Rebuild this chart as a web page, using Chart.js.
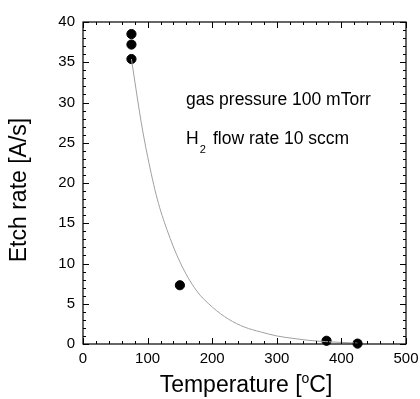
<!DOCTYPE html>
<html>
<head>
<meta charset="utf-8">
<script src="https://cdn.jsdelivr.net/npm/chart.js@4"></script>
<style>
  html, body { margin: 0; padding: 0; background: #fff; }
  #wrap { width: 420px; height: 399px; }
</style>
</head>
<body>
<div id="wrap"><canvas id="myChart" width="420" height="399"></canvas></div>
<script>
// measured points
const tempC = [75, 75, 75, 150, 377, 425];
const etchRate = [38.5, 37.2, 35.4, 7.3, 0.4, 0.05];

// fitted curve
const fitTemp = [75, 90, 100, 115, 130, 150, 175, 200, 225, 250, 275, 300, 325, 350, 375, 400, 425];
const fitRate = [35.4, 27.6, 23.3, 18.0, 14.2, 10.2, 6.7, 4.6, 3.1, 2.1, 1.5, 1.0, 0.7, 0.45, 0.3, 0.2, 0.1];

const xTicks = [0, 100, 200, 300, 400, 500];
const yTicks = [0, 5, 10, 15, 20, 25, 30, 35, 40];

const FONT = "'Liberation Sans', Arial, sans-serif";

// inward ticks on all four sides + box + titles + note
const framePlugin = {
  id: "frame",
  afterDraw(chart) {
    const ctx = chart.ctx;
    const a = chart.chartArea;
    const xs = chart.scales.x;
    const ys = chart.scales.y;
    ctx.save();
    ctx.strokeStyle = "#000";
    ctx.lineWidth = 1.2;
    ctx.strokeRect(a.left, a.top, a.right - a.left, a.bottom - a.top);
    ctx.lineWidth = 1;
    ctx.beginPath();
    for (let v = 0; v <= 500; v += 20) {
      const p = Math.round(xs.getPixelForValue(v)) + 0.5;
      const len = v % 100 === 0 ? 6 : 3;
      ctx.moveTo(p, a.bottom); ctx.lineTo(p, a.bottom - len);
      ctx.moveTo(p, a.top); ctx.lineTo(p, a.top + len);
    }
    for (let v = 0; v <= 40; v += 1) {
      const p = Math.round(ys.getPixelForValue(v)) + 0.5;
      const len = v % 5 === 0 ? 6 : 3;
      ctx.moveTo(a.left, p); ctx.lineTo(a.left + len, p);
      ctx.moveTo(a.right, p); ctx.lineTo(a.right - len, p);
    }
    ctx.stroke();

    ctx.fillStyle = "#000";
    // y title
    ctx.save();
    ctx.font = "23px " + FONT;
    ctx.translate(26, 190);
    ctx.rotate(-Math.PI / 2);
    ctx.textAlign = "center";
    ctx.textBaseline = "alphabetic";
    ctx.fillText("Etch rate [A/s]", 0, 0);
    ctx.restore();

    // x title with superscript o
    ctx.textBaseline = "alphabetic";
    ctx.textAlign = "left";
    const p1 = "Temperature [", p3 = "C]";
    ctx.font = "23px " + FONT;
    const w1 = ctx.measureText(p1).width;
    const w3 = ctx.measureText(p3).width;
    ctx.font = "14px " + FONT;
    const w2 = ctx.measureText("o").width;
    const x0 = 246 - (w1 + w2 + w3) / 2;
    const base = 392;
    ctx.font = "23px " + FONT;
    ctx.fillText(p1, x0, base);
    ctx.font = "14px " + FONT;
    ctx.fillText("o", x0 + w1, base - 9);
    ctx.font = "23px " + FONT;
    ctx.fillText(p3, x0 + w1 + w2, base);

    // annotation
    ctx.font = "17.5px " + FONT;
    ctx.fillText("gas pressure 100 mTorr", 186, 105);
    ctx.fillText("H", 186, 144);
    const wh = ctx.measureText("H").width;
    ctx.font = "11px " + FONT;
    ctx.fillText("2", 186 + wh + 1, 153);
    ctx.font = "17.5px " + FONT;
    ctx.fillText("flow rate 10 sccm", 213, 144);
    ctx.restore();
  }
};

new Chart(document.getElementById("myChart").getContext("2d"), {
  type: "scatter",
  data: {
    datasets: [
      {
        label: "fit",
        data: fitTemp.map((t, i) => ({ x: t, y: fitRate[i] })),
        showLine: true,
        borderColor: "#a0a0a0",
        borderWidth: 1,
        pointRadius: 0,
        cubicInterpolationMode: "monotone",
        fill: false
      },
      {
        label: "data",
        data: tempC.map((t, i) => ({ x: t, y: etchRate[i] })),
        backgroundColor: "#000",
        borderColor: "#000",
        pointRadius: 4.6,
        clip: false
      }
    ]
  },
  options: {
    responsive: false,
    animation: false,
    layout: { padding: { top: 22, right: 14, left: 0, bottom: 0 } },
    plugins: { legend: { display: false }, tooltip: { enabled: false } },
    scales: {
      x: {
        type: "linear",
        min: 0,
        max: 500,
        afterFit: s => { s.height = 55; s.paddingLeft = 0; s.paddingRight = 0; },
        afterBuildTicks: s => { s.ticks = xTicks.map(v => ({ value: v })); },
        grid: { display: false, drawTicks: false },
        border: { display: false },
        ticks: { color: "#000", padding: 6, font: { family: FONT, size: 15 } }
      },
      y: {
        type: "linear",
        min: 0,
        max: 40,
        afterFit: s => { s.width = 83; s.paddingTop = 0; s.paddingBottom = 0; },
        afterBuildTicks: s => { s.ticks = yTicks.map(v => ({ value: v })); },
        grid: { display: false, drawTicks: false },
        border: { display: false },
        ticks: { color: "#000", padding: 8, font: { family: FONT, size: 15 } }
      }
    }
  },
  plugins: [framePlugin]
});
</script>
</body>
</html>
